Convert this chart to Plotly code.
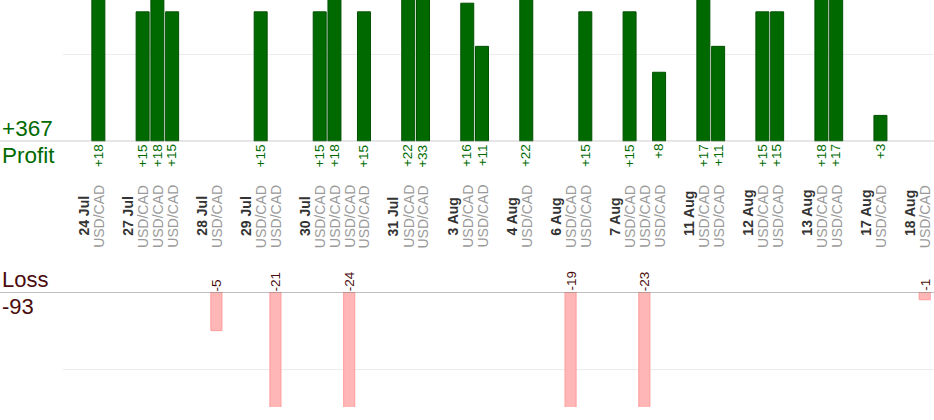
import plotly.graph_objects as go

# ---- data ----
dates = ["24 Jul", "27 Jul", "28 Jul", "29 Jul", "30 Jul", "31 Jul", "3 Aug", "4 Aug",
         "6 Aug", "7 Aug", "11 Aug", "12 Aug", "13 Aug", "17 Aug", "18 Aug"]
trades_per_date = [1, 3, 1, 2, 4, 2, 2, 1, 2, 3, 2, 2, 2, 1, 1]
trade_pnl = [18,
             15, 18, 15,
             -5,
             15, -21,
             15, 18, -24, 15,
             22, 33,
             16, 11,
             22,
             -19, 15,
             15, -23, 8,
             17, 11,
             15, 15,
             18, 17,
             3,
             -1]
trade_symbol = "USD/CAD"

# ---- slot layout: [date label, trades..., gap] per day ----
date_slot, trade_slot = [], []
s = 0
for n in trades_per_date:
    date_slot.append(s)
    s += 1
    for _ in range(n):
        trade_slot.append(s)
        s += 1
    s += 1

prof_x = [x for x, v in zip(trade_slot, trade_pnl) if v > 0]
prof_y = [v for v in trade_pnl if v > 0]
loss_x = [x for x, v in zip(trade_slot, trade_pnl) if v < 0]
loss_y = [v for v in trade_pnl if v < 0]
total_profit = sum(prof_y)
total_loss = sum(loss_y)

GREEN = "#006a00"
LOSSC = "#4a0c0c"
FONT = "Liberation Sans, Arial, sans-serif"

H = 420
MT, MB, ML = 0, 13, 63
PH = H - MT - MB


def py(p):  # pixel y -> paper
    return (H - MB - p) / PH


fig = go.Figure()
fig.add_trace(go.Bar(x=prof_x, y=prof_y, width=0.88, yaxis="y",
                     marker=dict(color=GREEN, line=dict(color="#005000", width=1)),
                     hoverinfo="skip", showlegend=False))
fig.add_trace(go.Bar(x=loss_x, y=loss_y, width=0.75, yaxis="y2",
                     marker=dict(color="#ffb6b6", line=dict(color="#ff9c9c", width=1)),
                     hoverinfo="skip", showlegend=False))

ann = []
for x, v in zip(prof_x, prof_y):
    ann.append(dict(x=x, y=0, xref="x", yref="y", text=f"+{v}", textangle=-90,
                    showarrow=False, xanchor="center", yanchor="top", yshift=-1,
                    font=dict(family=FONT, size=13.5, color=GREEN)))
for x, v in zip(loss_x, loss_y):
    ann.append(dict(x=x, y=0, xref="x", yref="y2", text=f"{v}", textangle=-90,
                    showarrow=False, xanchor="center", yanchor="bottom", yshift=-1,
                    font=dict(family=FONT, size=13.5, color=LOSSC)))
for x, d in zip(date_slot, dates):
    ann.append(dict(x=x, y=py(238), xref="x", yref="paper", text=f"<b>{d}</b>", textangle=-90,
                    showarrow=False, xanchor="center", yanchor="bottom",
                    font=dict(family=FONT, size=14, color="#333333")))
for x in trade_slot:
    ann.append(dict(x=x, y=py(250), xref="x", yref="paper", text=trade_symbol, textangle=-90,
                    showarrow=False, xanchor="center", yanchor="bottom",
                    font=dict(family=FONT, size=14, color="#9a9a9a")))

left_paper = -ML / (934 - ML)
ann += [
    dict(x=left_paper, y=0, xref="paper", yref="y", text=f"+{total_profit}", showarrow=False,
         xanchor="left", yanchor="bottom", xshift=0, yshift=-2,
         font=dict(family=FONT, size=22.5, color=GREEN)),
    dict(x=left_paper, y=0, xref="paper", yref="y", text="Profit", showarrow=False,
         xanchor="left", yanchor="top", yshift=0,
         font=dict(family=FONT, size=22.5, color=GREEN)),
    dict(x=left_paper, y=0, xref="paper", yref="y2", text="Loss", showarrow=False,
         xanchor="left", yanchor="bottom", yshift=-2,
         font=dict(family=FONT, size=22, color=LOSSC)),
    dict(x=left_paper, y=0, xref="paper", yref="y2", text=f"{total_loss}", showarrow=False,
         xanchor="left", yanchor="top", yshift=0,
         font=dict(family=FONT, size=22, color=LOSSC)),
]

shapes = [
    dict(type="line", xref="paper", yref="y", x0=left_paper, x1=1, y0=0, y1=0,
         line=dict(color="#808080", width=1)),
    dict(type="line", xref="paper", yref="y2", x0=left_paper, x1=1, y0=0, y1=0,
         line=dict(color="#808080", width=1)),
]

fig.update_layout(
    width=934, height=H,
    margin=dict(l=ML, r=0, t=MT, b=MB, pad=0),
    paper_bgcolor="white", plot_bgcolor="white",
    barmode="overlay",
    xaxis=dict(range=[-1.396, 57.63], visible=False, fixedrange=True),
    yaxis=dict(domain=[py(141.3), 1], range=[0, 16.37], tickvals=[10], showticklabels=False,
               gridcolor="#ececec", zeroline=False, showline=False, ticks=""),
    yaxis2=dict(domain=[0, py(292)], range=[-14.88, 0], tickvals=[-10], showticklabels=False,
                gridcolor="#ececec", zeroline=False, showline=False, ticks="", anchor="x"),
    annotations=ann, shapes=shapes,
    font=dict(family=FONT),
)

fig.write_html("out.html", config={"displayModeBar": False},
               post_script="document.body.style.margin='0';document.body.style.overflow='hidden';")
